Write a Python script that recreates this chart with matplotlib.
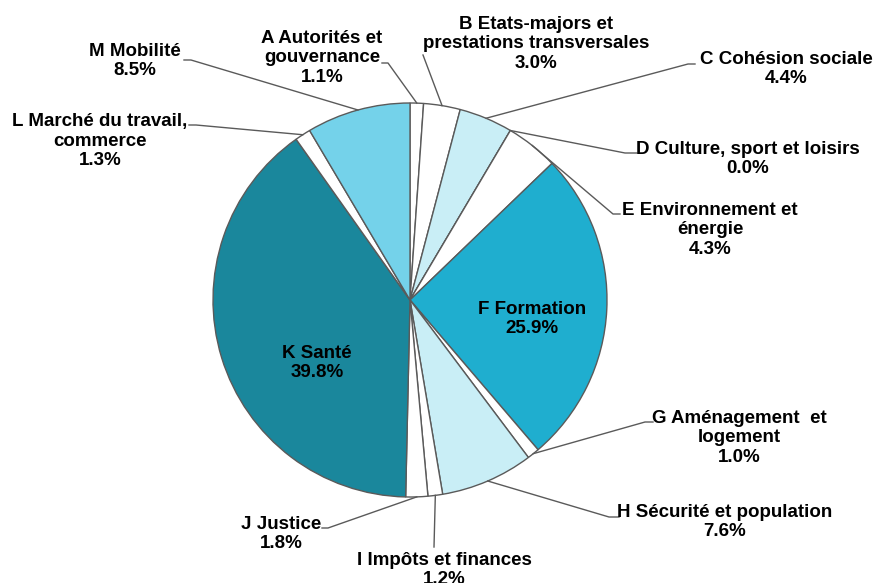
import numpy as np
import matplotlib
matplotlib.use('Agg')
import matplotlib.pyplot as plt

# Data (clockwise from 12 o'clock)
codes = ['A', 'B', 'C', 'D', 'E', 'F', 'G', 'H', 'I', 'J', 'K', 'L', 'M']
names = ['Autorités et\ngouvernance', 'Etats-majors et\nprestations transversales',
         'Cohésion sociale', 'Culture, sport et loisirs', 'Environnement et\nénergie',
         'Formation', 'Aménagement  et\nlogement', 'Sécurité et population',
         'Impôts et finances', 'Justice', 'Santé', 'Marché du travail,\ncommerce',
         'Mobilité']
shares = [1.1, 3.0, 4.4, 0.0, 4.3, 25.9, 1.0, 7.6, 1.2, 1.8, 39.8, 1.3, 8.5]

colors = ['white', 'white', '#c9eef6', 'white', 'white', '#1faecf', 'white',
          '#c9eef6', 'white', 'white', '#1a879c', 'white', '#74d2ea']

plt.rcParams['font.family'] = ['Liberation Sans', 'DejaVu Sans']

W, H = 877, 583
fig = plt.figure(figsize=(W / 100, H / 100), dpi=100)
ax = fig.add_axes([0, 0, 1, 1])

cx, cy, r = 410, H - 300, 197

ax.pie(shares, colors=colors, startangle=90, counterclock=False,
       center=(cx, cy), radius=r, frame=True,
       wedgeprops=dict(edgecolor='#5a5a5a', linewidth=1.0))
ax.set_xlim(0, W)
ax.set_ylim(0, H)
ax.set_aspect('equal')
ax.axis('off')

# label block centres (pixels from top-left) and leader start / stub end
text_pos = {
    'A': (322, 58), 'B': (536, 44), 'C': (786, 69), 'D': (748, 159),
    'E': (710, 230), 'F': (532, 319), 'G': (739, 438), 'H': (725, 522),
    'I': (444, 570), 'J': (281, 534), 'K': (317, 363), 'L': (100, 141),
    'M': (135, 61),
}
leader = {
    'A': [(382, 63), (388, 63)], 'B': [(423, 55)],
    'C': [(695, 64), (688, 64)], 'D': [(637, 153), (625, 153)],
    'E': [(620, 214), (613, 214)], 'G': [(653, 422), (645, 422)],
    'H': [(619, 517), (609, 517)], 'I': [(434, 547)],
    'J': [(322, 528), (328, 528)], 'L': [(189, 125), (196, 125)],
    'M': [(184, 60), (191, 60)],
}

cum = np.cumsum([0] + shares[:-1])
total = sum(shares)
for code, name, s, c0 in zip(codes, names, shares, cum):
    tx, ty = text_pos[code]
    ax.text(tx, H - ty, f'{code} {name}\n{s:.1f}%', ha='center', va='center',
            fontsize=13.5, fontweight='bold', color='black', linespacing=1.2)
    if code in leader:
        ang = np.deg2rad((c0 + s / 2) / total * 360)
        rim = (cx + r * np.sin(ang), cy + r * np.cos(ang))
        pts = [(x, H - y) for x, y in leader[code]] + [rim]
        xs, ys = zip(*pts)
        ax.plot(xs, ys, color='#5a5a5a', lw=1.0)

fig.savefig('out.png', dpi=100, facecolor='white')
